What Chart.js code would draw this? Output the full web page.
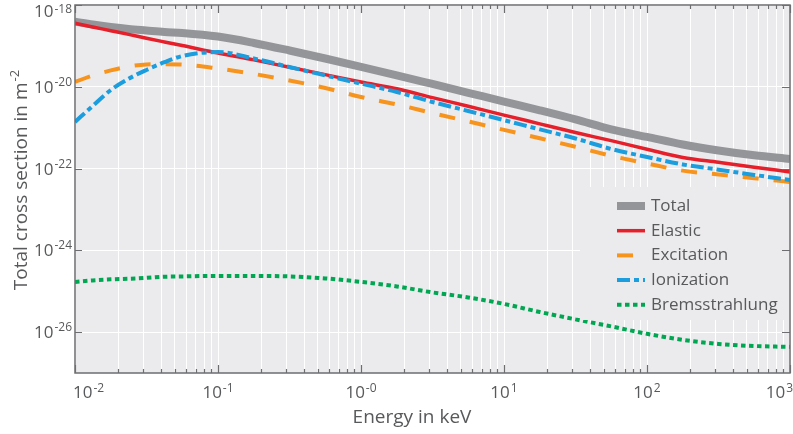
<!DOCTYPE html>
<html>
<head>
<meta charset="utf-8">
<title>Total cross sections</title>
<script src="https://cdn.jsdelivr.net/npm/chart.js@4.4.1/dist/chart.umd.min.js"></script>
<style>
  html, body { margin: 0; padding: 0; background: #fff; }
  #wrap { width: 793px; height: 434px; }
</style>
</head>
<body>
<div id="wrap"><canvas id="chart" width="793" height="434"></canvas></div>
<script>
// Energy grid in keV (log-spaced samples)
const energies = [0.01, 0.0133, 0.0178, 0.0237, 0.0316, 0.0422, 0.0562, 0.1, 0.178, 0.316, 0.562,
  1, 1.78, 3.16, 5.62, 10, 17.8, 31.6, 56.2, 100, 178, 316, 562, 1000];

// Cross sections in m^-2
const total = [3.91e-19, 3.33e-19, 2.90e-19, 2.59e-19, 2.38e-19, 2.19e-19, 2.07e-19, 1.69e-19, 1.18e-19, 7.72e-20, 4.92e-20,
  3.08e-20, 1.91e-20, 1.17e-20, 7.13e-21, 4.34e-21, 2.65e-21, 1.59e-21, 9.08e-22, 5.93e-22, 3.88e-22, 2.77e-22, 2.11e-22, 1.72e-22];
const elastic = [3.57e-19, 2.90e-19, 2.35e-19, 1.91e-19, 1.54e-19, 1.25e-19, 1.02e-19, 6.67e-20, 4.55e-20, 3.00e-20, 1.98e-20,
  1.31e-20, 8.93e-21, 5.44e-21, 3.34e-21, 2.03e-21, 1.24e-21, 7.59e-22, 4.81e-22, 2.97e-22, 1.87e-22, 1.42e-22, 1.08e-22, 8.26e-23];
const excitation = [1.31e-20, 1.89e-20, 2.51e-20, 3.13e-20, 3.51e-20, 3.57e-20, 3.51e-20, 2.80e-20, 2.06e-20, 1.43e-20, 9.35e-21,
  5.64e-21, 3.69e-21, 2.28e-21, 1.42e-21, 8.84e-22, 5.51e-22, 3.41e-22, 2.05e-22, 1.33e-22, 8.89e-23, 7.18e-23, 5.80e-23, 4.70e-23];
const ionization = [1.38e-21, 3.40e-21, 8.35e-21, 1.57e-20, 2.58e-20, 3.99e-20, 5.66e-20, 7.09e-20, 4.92e-20, 3.05e-20, 1.90e-20,
  1.19e-20, 7.46e-21, 4.25e-21, 2.55e-21, 1.53e-21, 9.08e-22, 5.44e-22, 3.01e-22, 1.92e-22, 1.26e-22, 9.40e-23, 6.98e-23, 5.26e-23];
const bremsstrahlung = [1.69e-25, 1.84e-25, 1.95e-25, 2.02e-25, 2.12e-25, 2.26e-25, 2.30e-25, 2.37e-25, 2.37e-25, 2.30e-25, 2.06e-25,
  1.69e-25, 1.31e-25, 9.35e-26, 7.05e-26, 4.89e-26, 3.10e-26, 2.05e-26, 1.38e-26, 9.08e-27, 6.48e-27, 5.14e-27, 4.57e-27, 4.35e-27];

const seriesNames = ['Total', 'Elastic', 'Excitation', 'Ionization', 'Bremsstrahlung'];

// tick labels: base 10 with exponent
const xTickValues = [0.01, 0.1, 1, 10, 100, 1000];
const xTickExps = ['-2', '-1', '-0', '1', '2', '3'];
const yTickValues = [1e-26, 1e-24, 1e-22, 1e-20, 1e-18];
const yTickExps = ['-26', '-24', '-22', '-20', '-18'];

const FONT = '"Open Sans", "Noto Sans", sans-serif';
const TEXT = '#58595b';
const AXIS = '#6d6e71';
const PLOT_BG = '#ebebee';

// minor grid positions 1..9 x 10^n
const xGrid = [];
for (let e = -2; e < 3; e++) {
  for (let m = 1; m <= 9; m++) xGrid.push(Number((m * Math.pow(10, e)).toPrecision(3)));
}
xGrid.push(1000);

function pts(ys) { return energies.map((e, i) => ({ x: e, y: ys[i] })); }

// "10" with a superscript exponent
function powWidth(ctx, exp) {
  ctx.font = '17px ' + FONT;
  const w1 = ctx.measureText('10').width;
  ctx.font = '12px ' + FONT;
  return w1 + 1 + ctx.measureText(exp).width;
}
function drawPow(ctx, exp, left, baseline, raise) {
  ctx.textAlign = 'left';
  ctx.textBaseline = 'alphabetic';
  ctx.font = '17px ' + FONT;
  ctx.fillText('10', left, baseline);
  const w1 = ctx.measureText('10').width;
  ctx.font = '12px ' + FONT;
  ctx.fillText(exp, left + w1 + 1, baseline - raise);
}

const bgPlugin = {
  id: 'plotBg',
  beforeDraw(chart) {
    const { ctx, chartArea: a } = chart;
    ctx.save();
    ctx.fillStyle = PLOT_BG;
    ctx.fillRect(a.left, a.top, a.right - a.left, a.bottom - a.top);
    ctx.restore();
  }
};

const decorPlugin = {
  id: 'decor',
  afterDraw(chart) {
    const { ctx, chartArea: a } = chart;
    const xs = chart.scales.x, ys = chart.scales.y;
    ctx.save();

    // legend box (covers grid lines)
    ctx.fillStyle = PLOT_BG;
    ctx.fillRect(580, 187, 207, 133);
    chart.data.datasets.forEach((ds, i) => {
      const cy = 206 + i * 24.7;
      ctx.strokeStyle = ds.borderColor;
      ctx.lineWidth = ds.borderWidth;
      ctx.setLineDash(ds.borderDash || []);
      ctx.beginPath();
      ctx.moveTo(617, cy);
      ctx.lineTo(645, cy);
      ctx.stroke();
      ctx.setLineDash([]);
      ctx.fillStyle = TEXT;
      ctx.font = '17px ' + FONT;
      ctx.textAlign = 'left';
      ctx.textBaseline = 'middle';
      ctx.fillText(ds.label, 651, cy);
    });

    // frame
    ctx.strokeStyle = AXIS;
    ctx.lineWidth = 1.5;
    ctx.strokeRect(a.left, a.top, a.right - a.left, a.bottom - a.top);

    // x ticks, inside, bottom and top
    ctx.lineWidth = 1.2;
    xGrid.forEach(v => {
      const px = Math.round(xs.getPixelForValue(v)) + 0.5;
      const len = xTickValues.includes(v) ? 8 : 4;
      ctx.beginPath();
      ctx.moveTo(px, a.bottom); ctx.lineTo(px, a.bottom - len);
      ctx.moveTo(px, a.top); ctx.lineTo(px, a.top + len);
      ctx.stroke();
    });
    // y ticks, inside, left and right
    yTickValues.forEach(v => {
      const py = Math.round(ys.getPixelForValue(v)) + 0.5;
      ctx.beginPath();
      ctx.moveTo(a.left, py); ctx.lineTo(a.left + 7, py);
      ctx.moveTo(a.right, py); ctx.lineTo(a.right - 8, py);
      ctx.stroke();
    });

    // tick labels
    ctx.fillStyle = TEXT;
    xTickValues.forEach((v, i) => {
      const px = xs.getPixelForValue(v);
      const w = powWidth(ctx, xTickExps[i]);
      const left = Math.max(73, Math.min(793 - w, px - w / 2));
      drawPow(ctx, xTickExps[i], left, 398, 6);
    });
    yTickValues.forEach((v, i) => {
      const py = ys.getPixelForValue(v);
      const w = powWidth(ctx, yTickExps[i]);
      const base = Math.max(py + 6, 17);
      drawPow(ctx, yTickExps[i], 72 - w, base, py + 6 < 17 ? 4 : 7);
    });

    // axis titles
    ctx.font = '19px ' + FONT;
    ctx.textAlign = 'center';
    ctx.textBaseline = 'alphabetic';
    ctx.fillText('Energy in keV', 412, 423);

    ctx.translate(27, 180);
    ctx.rotate(-Math.PI / 2);
    const t1 = 'Total cross section in m';
    ctx.font = '19px ' + FONT;
    const w1 = ctx.measureText(t1).width;
    ctx.font = '13px ' + FONT;
    const w2 = ctx.measureText('-2').width;
    const start = -(w1 + 1 + w2) / 2;
    ctx.textAlign = 'left';
    ctx.font = '19px ' + FONT;
    ctx.fillText(t1, start, 0);
    ctx.font = '13px ' + FONT;
    ctx.fillText('-2', start + w1 + 1, -8);
    ctx.restore();
  }
};

const lineBase = { fill: false, pointRadius: 0, cubicInterpolationMode: 'monotone', borderCapStyle: 'butt' };

new Chart(document.getElementById('chart').getContext('2d'), {
  type: 'line',
  data: {
    datasets: [
      { ...lineBase, label: seriesNames[0], data: pts(total), borderColor: '#949598', borderWidth: 8, order: 5 },
      { ...lineBase, label: seriesNames[1], data: pts(elastic), borderColor: '#e5202a', borderWidth: 3.5, order: 4 },
      { ...lineBase, label: seriesNames[2], data: pts(excitation), borderColor: '#f7941e', borderWidth: 4, borderDash: [16, 15], order: 3 },
      { ...lineBase, label: seriesNames[3], data: pts(ionization), borderColor: '#1b9dde', borderWidth: 4, borderDash: [13, 4, 5, 4], order: 2 },
      { ...lineBase, label: seriesNames[4], data: pts(bremsstrahlung), borderColor: '#00a651', borderWidth: 4, borderDash: [4.5, 3.5], order: 1 }
    ]
  },
  options: {
    responsive: false,
    animation: false,
    devicePixelRatio: 1,
    layout: { padding: { left: 75, top: 5, right: 3, bottom: 61 } },
    plugins: { legend: { display: false }, tooltip: { enabled: false } },
    scales: {
      x: {
        type: 'logarithmic', min: 0.01, max: 1000,
        afterBuildTicks: s => { s.ticks = xGrid.map(v => ({ value: v })); },
        ticks: { display: false },
        grid: { color: '#ffffff', lineWidth: 1, drawTicks: false },
        border: { display: false }
      },
      y: {
        type: 'logarithmic', min: 1e-27, max: 1e-18,
        afterBuildTicks: s => { s.ticks = yTickValues.map(v => ({ value: v })); },
        ticks: { display: false },
        grid: { color: '#ffffff', lineWidth: 1, drawTicks: false },
        border: { display: false }
      }
    }
  },
  plugins: [bgPlugin, decorPlugin]
});
</script>
</body>
</html>
